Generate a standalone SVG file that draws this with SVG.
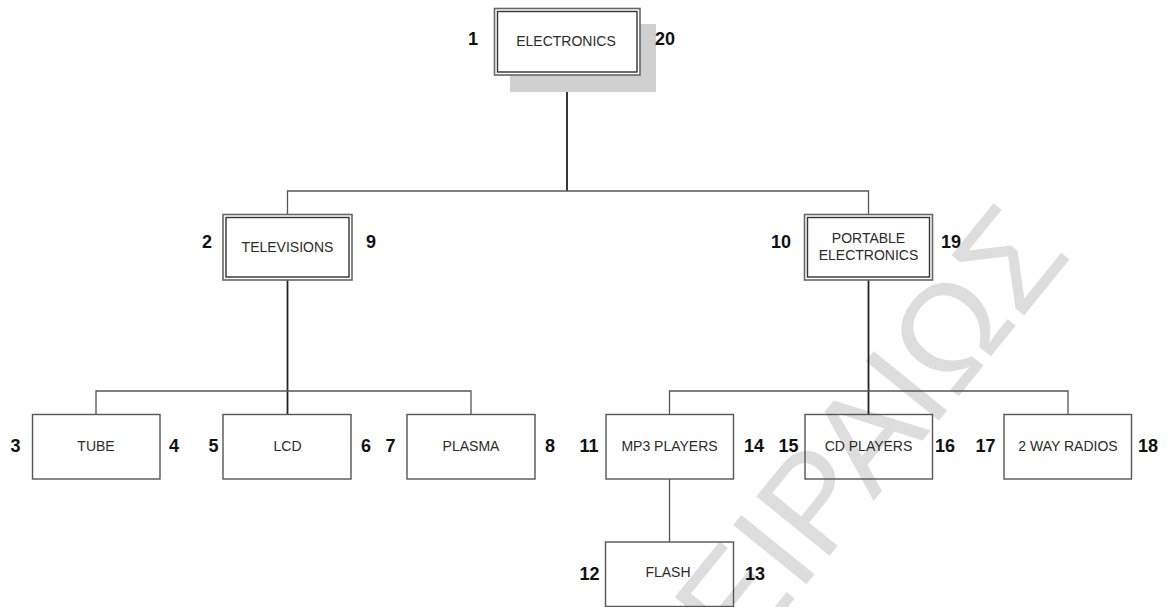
<svg xmlns="http://www.w3.org/2000/svg" width="1168" height="607" viewBox="0 0 1168 607">
<style>
.wm{font-family:"Liberation Sans",Arial,sans-serif;font-size:137px;fill:#dddddd}
.lbl{font-family:"Liberation Sans",Arial,sans-serif;font-size:14px;fill:#2b2b2b;text-anchor:middle}
.num{font-family:"Liberation Sans",Arial,sans-serif;font-size:18px;font-weight:bold;fill:#111}
.box{fill:none;stroke:#555;stroke-width:1.4}
.outer{fill:none;stroke:#666;stroke-width:1.6}
.inner{fill:none;stroke:#333;stroke-width:1.4}
.c1{fill:none;stroke:#222;stroke-width:1.8}
.c2{fill:none;stroke:#555;stroke-width:1.3}
</style>
<rect width="1168" height="607" fill="#fff"/>
<text class="wm" transform="translate(741,665) rotate(-51)">ΕΙΡΑΙΩΣ</text>
<g id="connectors">
<path class="c1" d="M567,75 V191"/>
<path class="c2" d="M287.5,214 V191 H868.5 V214"/>
<path class="c1" d="M287.5,280 V414"/>
<path class="c2" d="M96,414 V391 H471 V414"/>
<path class="c1" d="M868.5,280 V414"/>
<path class="c2" d="M669.5,414 V391 H1068 V414"/>
<path class="c2" d="M669.5,479 V542"/>
</g>
<g id="electronics">
<rect x="510" y="24" width="146" height="68" fill="#d0d0d0"/>
<rect x="494.5" y="8.5" width="145.5" height="66.5" fill="#fff" stroke="#666" stroke-width="1.6"/>
<rect class="inner" x="497.5" y="11.5" width="139.5" height="60.5"/>
<text class="lbl" x="566" y="45.5">ELECTRONICS</text>
<text class="num" x="478" y="45" text-anchor="end">1</text>
<text class="num" x="655" y="45">20</text>
</g>
<g id="televisions">
<rect class="outer" x="223" y="214.5" width="129" height="65.5"/>
<rect class="inner" x="226" y="217.5" width="123" height="59.5"/>
<text class="lbl" x="287.5" y="252">TELEVISIONS</text>
<text class="num" x="212" y="248" text-anchor="end">2</text>
<text class="num" x="366" y="248">9</text>
</g>
<g id="portable">
<rect class="outer" x="804.5" y="214.5" width="128" height="65.5"/>
<rect class="inner" x="807.5" y="217.5" width="122" height="59.5"/>
<text class="lbl" x="868.5" y="243">PORTABLE</text>
<text class="lbl" x="868.5" y="259.5">ELECTRONICS</text>
<text class="num" x="791" y="248" text-anchor="end">10</text>
<text class="num" x="941" y="248">19</text>
</g>
<g id="tube">
<rect class="box" x="32.5" y="414.5" width="127.5" height="64.5"/>
<text class="lbl" x="96" y="451">TUBE</text>
<text class="num" x="20.5" y="452" text-anchor="end">3</text>
<text class="num" x="169" y="452">4</text>
</g>
<g id="lcd">
<rect class="box" x="223" y="414.5" width="128" height="64.5"/>
<text class="lbl" x="287.5" y="451">LCD</text>
<text class="num" x="218.5" y="452" text-anchor="end">5</text>
<text class="num" x="361" y="452">6</text>
</g>
<g id="plasma">
<rect class="box" x="407" y="414.5" width="128" height="64.5"/>
<text class="lbl" x="471" y="451">PLASMA</text>
<text class="num" x="395.5" y="452" text-anchor="end">7</text>
<text class="num" x="545" y="452">8</text>
</g>
<g id="mp3">
<rect class="box" x="606" y="414.5" width="127.5" height="64.5"/>
<text class="lbl" x="669.5" y="451">MP3 PLAYERS</text>
<text class="num" x="598.5" y="452" text-anchor="end">11</text>
<text class="num" x="744" y="452">14</text>
</g>
<g id="cd">
<rect class="box" x="805" y="414.5" width="127.5" height="64.5"/>
<text class="lbl" x="868.5" y="451">CD PLAYERS</text>
<text class="num" x="798.5" y="452" text-anchor="end">15</text>
<text class="num" x="935" y="452">16</text>
</g>
<g id="radios">
<rect class="box" x="1004" y="414.5" width="127.5" height="64.5"/>
<text class="lbl" x="1068" y="451">2 WAY RADIOS</text>
<text class="num" x="995.5" y="452" text-anchor="end">17</text>
<text class="num" x="1138" y="452">18</text>
</g>
<g id="flash">
<rect class="box" x="605.5" y="542" width="128" height="64.5"/>
<text class="lbl" x="668" y="577">FLASH</text>
<text class="num" x="599.5" y="579.5" text-anchor="end">12</text>
<text class="num" x="745" y="579.5">13</text>
</g>
</svg>
